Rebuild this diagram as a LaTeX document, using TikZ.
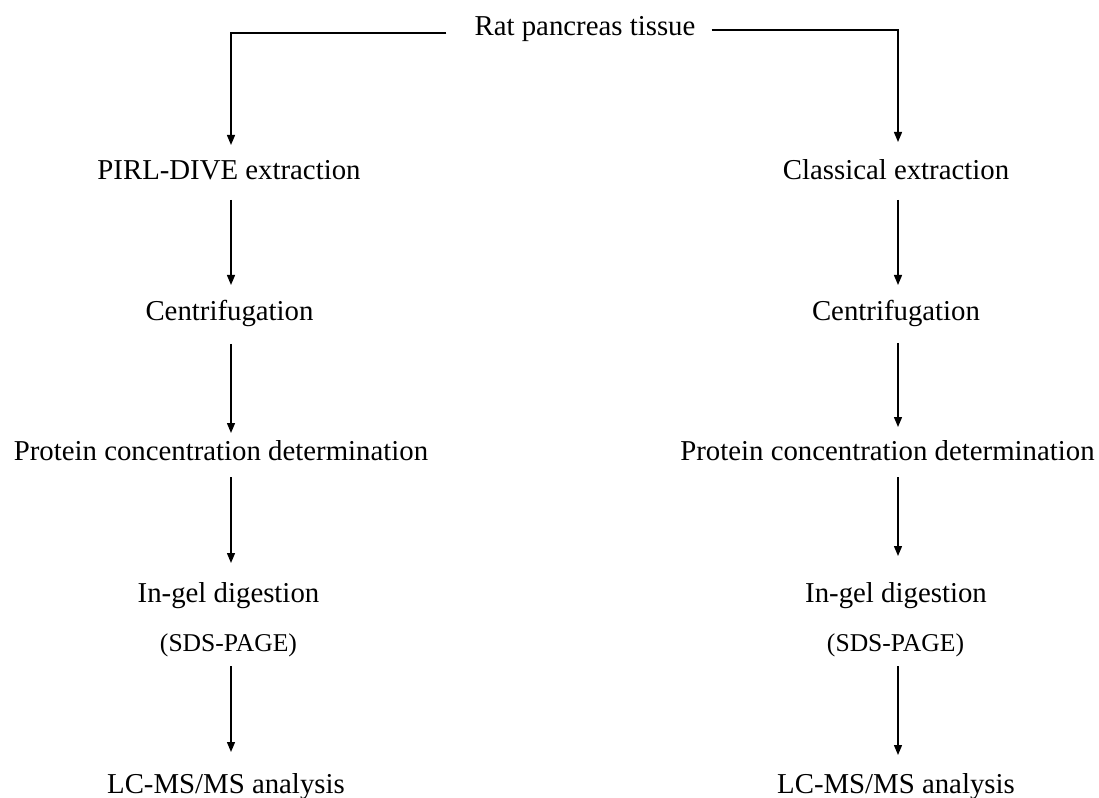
\documentclass[tikz,border=0pt]{standalone}
\usepackage{fontspec}
\setmainfont{Liberation Serif}
\usetikzlibrary{arrows.meta,calc}

\begin{document}
\begin{tikzpicture}[x=0.75pt,y=-0.75pt,
  step label/.style={inner sep=0pt,anchor=base,font=\fontsize{21.6pt}{26pt}\selectfont},
  note label/.style={inner sep=0pt,anchor=base,font=\fontsize{19.2pt}{23pt}\selectfont},
  flow/.style={line width=1pt,-{Triangle[length=7.5pt,width=6pt]}}]

  \useasboundingbox (0,0) rectangle (1099,798);

  % column axes for the vertical arrows
  \coordinate (colL) at (231,0);
  \coordinate (colR) at (898,0);

  % source
  \node[step label] (rat) at (585,36) {Rat pancreas tissue};

  % left branch
  \node[step label] (pL) at (229,180) {PIRL-DIVE extraction};
  \node[step label] (cL) at (229.5,321) {Centrifugation};
  \node[step label] (prL) at (221,460) {Protein concentration determination};
  \node[step label] (iL) at (228.5,602) {In-gel digestion};
  \node[note label] (sL) at (228.5,651) {(SDS-PAGE)};
  \node[step label] (lL) at (226,793) {LC-MS/MS analysis};

  % right branch
  \node[step label] (pR) at (896,180) {Classical extraction};
  \node[step label] (cR) at (896,321) {Centrifugation};
  \node[step label] (prR) at (887.5,460) {Protein concentration determination};
  \node[step label] (iR) at (896,602) {In-gel digestion};
  \node[note label] (sR) at (895.5,651) {(SDS-PAGE)};
  \node[step label] (lR) at (896,793) {LC-MS/MS analysis};

  % split from the source
  \draw[flow] ($(rat.base west)+(-28,-3)$) -| ($(pL.base -| colL)+(0,-35)$);
  \draw[flow] ($(rat.base east)+(16,-6)$) -| ($(pR.base -| colR)+(0,-38)$);

  % left chain
  \draw[flow] ($(pL.base -| colL)+(0,20)$) -- ($(cL.base -| colL)+(0,-36)$);
  \draw[flow] ($(cL.base -| colL)+(0,23)$) -- ($(prL.base -| colL)+(0,-27)$);
  \draw[flow] ($(prL.base -| colL)+(0,17)$) -- ($(iL.base -| colL)+(0,-39)$);
  \draw[flow] ($(sL.base -| colL)+(0,15)$) -- ($(lL.base -| colL)+(0,-41)$);

  % right chain
  \draw[flow] ($(pR.base -| colR)+(0,20)$) -- ($(cR.base -| colR)+(0,-36)$);
  \draw[flow] ($(cR.base -| colR)+(0,22)$) -- ($(prR.base -| colR)+(0,-33)$);
  \draw[flow] ($(prR.base -| colR)+(0,17)$) -- ($(iR.base -| colR)+(0,-46)$);
  \draw[flow] ($(sR.base -| colR)+(0,15)$) -- ($(lR.base -| colR)+(0,-38)$);
\end{tikzpicture}
\end{document}
